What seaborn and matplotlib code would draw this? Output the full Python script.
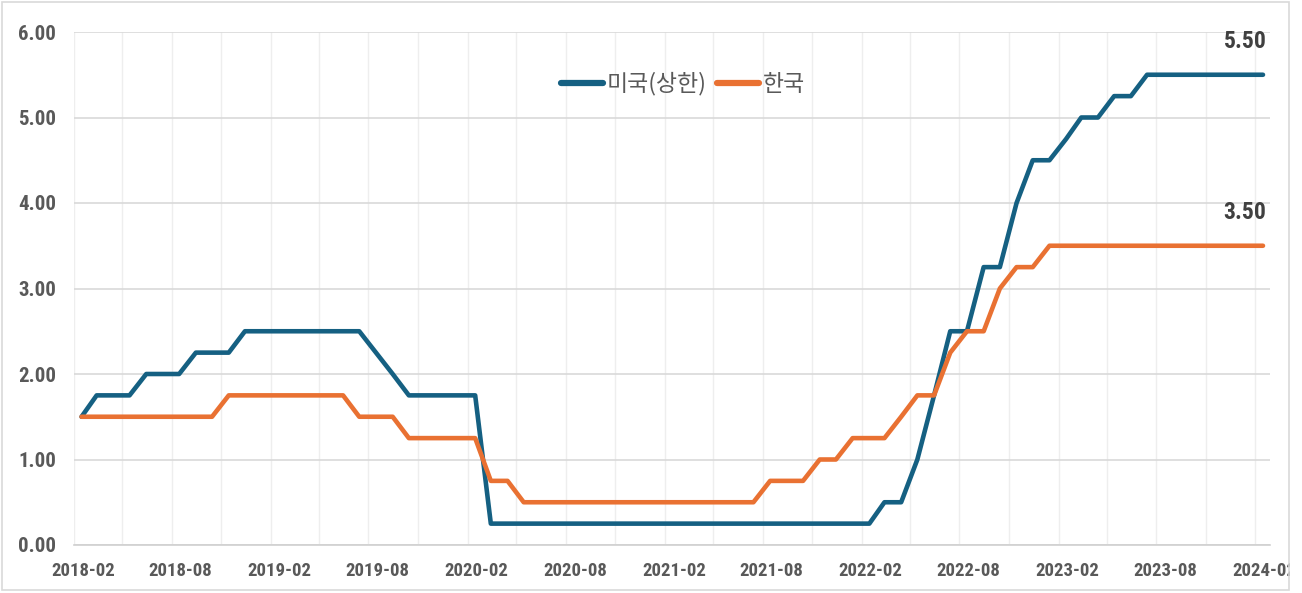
import pandas as pd
import matplotlib.pyplot as plt
import matplotlib.dates as mdates
import matplotlib.transforms as mtransforms
from matplotlib.patches import Rectangle
import seaborn as sns

# 월별 기준금리 (2018-02 ~ 2024-02), 각 월 중순에 표시
months = pd.date_range("2018-02-01", periods=73, freq="MS") + pd.Timedelta(days=14)

us_upper = [
    1.50, 1.75, 1.75, 1.75, 2.00, 2.00, 2.00, 2.25, 2.25, 2.25, 2.50,              # 2018
    2.50, 2.50, 2.50, 2.50, 2.50, 2.50, 2.50, 2.25, 2.00, 1.75, 1.75, 1.75,        # 2019
    1.75, 1.75, 0.25, 0.25, 0.25, 0.25, 0.25, 0.25, 0.25, 0.25, 0.25, 0.25,        # 2020
    0.25, 0.25, 0.25, 0.25, 0.25, 0.25, 0.25, 0.25, 0.25, 0.25, 0.25, 0.25,        # 2021
    0.25, 0.25, 0.50, 0.50, 1.00, 1.75, 2.50, 2.50, 3.25, 3.25, 4.00, 4.50,        # 2022
    4.50, 4.75, 5.00, 5.00, 5.25, 5.25, 5.50, 5.50, 5.50, 5.50, 5.50, 5.50,        # 2023
    5.50, 5.50,                                                                    # 2024
]
korea = [
    1.50, 1.50, 1.50, 1.50, 1.50, 1.50, 1.50, 1.50, 1.50, 1.75, 1.75,              # 2018
    1.75, 1.75, 1.75, 1.75, 1.75, 1.75, 1.50, 1.50, 1.50, 1.25, 1.25, 1.25,        # 2019
    1.25, 1.25, 0.75, 0.75, 0.50, 0.50, 0.50, 0.50, 0.50, 0.50, 0.50, 0.50,        # 2020
    0.50, 0.50, 0.50, 0.50, 0.50, 0.50, 0.50, 0.75, 0.75, 0.75, 1.00, 1.00,        # 2021
    1.25, 1.25, 1.25, 1.50, 1.75, 1.75, 2.25, 2.50, 2.50, 3.00, 3.25, 3.25,        # 2022
    3.50, 3.50, 3.50, 3.50, 3.50, 3.50, 3.50, 3.50, 3.50, 3.50, 3.50, 3.50,        # 2023
    3.50, 3.50,                                                                    # 2024
]
series_names = ["미국(상한)", "한국"]
colors = ["#156082", "#E97132"]

df = pd.DataFrame({"date": months, series_names[0]: us_upper, series_names[1]: korea})
long = df.melt(id_vars="date", var_name="국가", value_name="금리")

sns.set_style("white")
plt.rcParams["font.family"] = ["Roboto Condensed", "Liberation Sans", "DejaVu Sans"]
text_color = "#595959"

fig = plt.figure(figsize=(13.02, 5.93), dpi=100)
ax = fig.add_axes([74 / 1302, 48 / 593, 1196 / 1302, 513 / 593])

sns.lineplot(data=long, x="date", y="금리", hue="국가", palette=colors,
             linewidth=3.3, ax=ax, legend=True)

ax.set_xlim(pd.Timestamp("2018-02-01"), pd.Timestamp("2024-02-28"))
ax.set_ylim(0, 6)
ax.set_yticks([0, 1, 2, 3, 4, 5, 6])
ax.yaxis.set_major_formatter(lambda v, p: f"{v:.2f}")
ax.xaxis.set_major_locator(mdates.MonthLocator(bymonth=[2, 8]))
ax.xaxis.set_minor_locator(mdates.MonthLocator(bymonth=[2, 5, 8, 11]))
ax.xaxis.set_major_formatter(mdates.DateFormatter("%Y-%m"))

ax.grid(axis="y", color="#d9d9d9", linewidth=1.2)
ax.grid(axis="x", which="both", color="#eeeeee", linewidth=1.0)
ax.set_axisbelow(True)
for s in ["top", "right", "left"]:
    ax.spines[s].set_visible(False)
ax.spines["bottom"].set_color("#d0d0d0")
ax.spines["bottom"].set_linewidth(1.2)
ax.tick_params(axis="x", which="major", length=5, color="#d0d0d0", width=1.2,
               labelsize=13.5, labelcolor=text_color, pad=7)
ax.tick_params(axis="x", which="minor", length=0)
ax.tick_params(axis="y", length=0, labelsize=15, labelcolor=text_color, pad=13)
shift = mtransforms.ScaledTranslation(9 / 100, 0, fig.dpi_scale_trans)
for lab in ax.get_xticklabels():
    lab.set_fontweight("bold")
    lab.set_transform(lab.get_transform() + shift)
for lab in ax.get_yticklabels():
    lab.set_fontweight("bold")
ax.set_xlabel("")
ax.set_ylabel("")

# 마지막 값 표시
for vals in [us_upper, korea]:
    ax.annotate(f"{vals[-1]:.2f}", (months[-1], vals[-1]), xytext=(-13, 19),
                textcoords="offset points", ha="center", va="baseline",
                fontsize=17, fontweight="bold", color="#404040")

leg = ax.legend(loc="center", bbox_to_anchor=(0.509, 0.899), ncol=2, frameon=False,
                fontsize=16.5, handlelength=1.85, handletextpad=0.15, columnspacing=0.45)
for line in leg.get_lines():
    line.set_linewidth(4.5)
for t in leg.get_texts():
    t.set_color(text_color)
    t.set_family(["Noto Sans CJK KR", "DejaVu Sans"])
    t.set_fontweight("medium")

# 차트 테두리 (오른쪽 끝은 잘려 보임)
fig.patches.append(Rectangle((1290 / 1302, 0), 12 / 1302, 1, transform=fig.transFigure,
                             facecolor="white", edgecolor="none", zorder=10))
fig.patches.append(Rectangle((2 / 1302, 3 / 593), 1287 / 1302, 588 / 593, transform=fig.transFigure,
                             facecolor="none", edgecolor="#d9d9d9", linewidth=1.2, zorder=11))

fig.savefig("out.png", dpi=100)
